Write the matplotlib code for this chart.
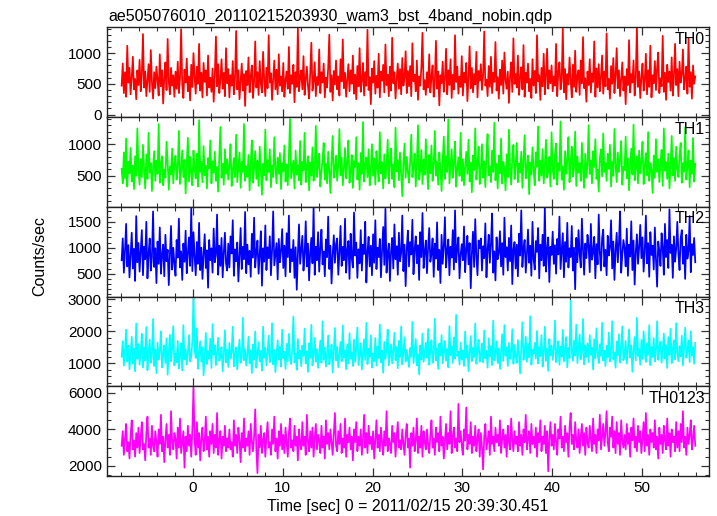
import numpy as np
import matplotlib
matplotlib.use("Agg")
import matplotlib.pyplot as plt
from matplotlib.ticker import MultipleLocator

plt.rcParams['font.family'] = ['Liberation Sans', 'DejaVu Sans']

title = "ae505076010_20110215203930_wam3_bst_4band_nobin.qdp"
xlabel = "Time [sec] 0 = 2011/02/15 20:39:30.451"
ylabel = "Counts/sec"

# first bin time and bin width (sec)
t_start = -8.0
t_bin = 0.125

th0 = [
    470, 830, 350, 690, 290, 1120, 520, 760, 330, 610, 940, 410, 580, 250, 720, 480,
    890, 380, 650, 1310, 440, 700, 300, 560, 820, 370, 1050, 520, 260, 690, 430, 780,
    560, 310, 980, 460, 720, 180, 610, 850, 400, 1230, 540, 330, 760, 470, 640, 290,
    700, 420, 860, 350, 590, 1390, 480, 270, 730, 520, 910, 380, 620, 230, 810, 450,
    1000, 610, 340, 780, 500, 1150, 390, 680, 280, 840, 530, 720, 310, 960, 440, 600,
    370, 750, 210, 630, 1270, 460, 820, 350, 570, 900, 420, 680, 300, 1080, 510, 740,
    280, 640, 470, 870, 330, 590, 1360, 410, 720, 250, 550, 830, 390, 660, 140, 710,
    480, 930, 360, 620, 800, 270, 540, 1190, 440, 690, 320, 870, 510, 360, 1020, 580,
    300, 760, 430, 1290, 520, 670, 240, 590, 880, 410, 730, 330, 980, 470, 620, 380,
    840, 290, 560, 700, 420, 1100, 350, 640, 500, 810, 200, 690, 450, 1410, 380, 600,
    720, 410, 950, 320, 580, 780, 460, 260, 670, 1170, 390, 540, 850, 300, 610, 480,
    1060, 350, 690, 520, 830, 280, 600, 440, 760, 1300, 370, 640, 230, 710, 490, 880,
    410, 620, 310, 900, 540, 1220, 430, 680, 290, 570, 820, 380, 720, 500, 960, 340,
    650, 250, 790, 460, 1080, 370, 560, 840, 310, 690, 470, 1380, 400, 610, 170, 750,
    520, 870, 340, 630, 440, 990, 280, 700, 550, 810, 360, 1140, 480, 650, 300, 780,
    390, 1250, 510, 690, 260, 580, 830, 420, 740, 330, 920, 470, 600, 1030, 350, 710,
    460, 790, 300, 1160, 540, 650, 380, 880, 240, 620, 470, 770, 1330, 410, 560, 320,
    690, 440, 980, 360, 610, 800, 290, 530, 1200, 420, 700, 150, 640, 510, 860, 370,
    580, 1070, 330, 720, 480, 900, 270, 650, 410, 1290, 530, 780, 340, 620, 450, 950,
    310, 680, 520, 840, 220, 590, 1110, 430, 760, 360, 660, 490, 1020, 280, 710, 550,
    820, 400, 630, 1350, 470, 570, 300, 790, 450, 940, 350, 680, 530, 1180, 390, 610,
    260, 730, 480, 880, 340, 1010, 560, 420, 700, 190, 620, 850, 370, 1240, 500, 660,
    440, 960, 320, 600, 770, 410, 1130, 290, 680, 520, 830, 380, 580, 270, 900, 470,
    710, 350, 1290, 540, 640, 240, 760, 460, 990, 330, 610, 1070, 420, 720, 510, 800,
    380, 620, 470, 1150, 300, 690, 850, 410, 560, 1400, 360, 740, 250, 660, 490, 930,
    560, 280, 810, 450, 1040, 370, 630, 720, 320, 880, 510, 1260, 430, 590, 210, 700,
    480, 900, 360, 670, 530, 1190, 290, 750, 440, 820, 380, 610, 960, 340, 700, 460,
    1320, 410, 580, 260, 790, 500, 920, 350, 640, 1080, 430, 720, 300, 570, 850, 390,
    620, 170, 740, 480, 1210, 360, 660, 520, 880, 310, 590, 1430, 450, 700, 270, 610,
    830, 390, 560, 990, 330, 720, 450, 1120, 280, 640, 510, 870, 400, 760, 1010, 350,
    590, 460, 1280, 370, 680, 240, 810, 530, 700, 390, 930, 310, 620, 1150, 480, 740,
    300, 860, 520, 650, 1060, 410, 570, 780, 340, 1240, 450, 690, 260, 800, 500, 620,
]
th1 = [
    610, 380, 870, 460, 1090, 330, 720, 540, 940, 410, 660, 290, 810, 500, 1250, 590,
    360, 760, 480, 990, 620, 300, 840, 450, 1180, 550, 700, 260, 630, 890, 420, 740,
    530, 1320, 390, 680, 810, 350, 600, 470, 1040, 720, 280, 650, 520, 930, 380, 700,
    820, 440, 640, 1210, 370, 570, 900, 480, 750, 220, 690, 1100, 410, 800, 540, 350,
    900, 600, 460, 850, 330, 1380, 560, 720, 400, 970, 510, 660, 300, 780, 620, 1060,
    380, 730, 550, 880, 420, 640, 250, 810, 1270, 470, 690, 360, 920, 530, 760, 440,
    670, 1000, 340, 590, 780, 480, 1150, 400, 630, 870, 310, 720, 560, 1320, 420, 650,
    480, 830, 270, 700, 1060, 390, 610, 890, 450, 740, 340, 960, 580, 200, 690, 510,
    1230, 430, 750, 560, 920, 320, 660, 480, 1110, 620, 380, 790, 530, 860, 290, 700,
    570, 980, 410, 680, 350, 820, 1400, 460, 600, 740, 300, 900, 520, 670, 430, 1050,
    360, 720, 590, 1180, 400, 640, 810, 270, 710, 500, 950, 420, 620, 1290, 480, 680,
    850, 330, 560, 760, 1020, 440, 690, 380, 880, 580, 230, 740, 1130, 470, 600, 820,
    420, 670, 1240, 510, 790, 350, 620, 940, 460, 710, 1060, 390, 560, 830, 310, 730,
    640, 1110, 440, 700, 280, 860, 530, 1350, 410, 660, 790, 480, 920, 350, 600, 1000,
    500, 780, 360, 890, 620, 410, 1190, 540, 720, 300, 840, 460, 650, 1070, 380, 710,
    930, 450, 680, 320, 1260, 570, 750, 430, 870, 520, 180, 690, 1010, 470, 800, 560,
    390, 720, 1150, 480, 640, 850, 330, 700, 1300, 440, 590, 910, 370, 760, 520, 1080,
    610, 290, 830, 540, 980, 420, 680, 1210, 500, 720, 360, 870, 600, 260, 740, 1120,
    450, 810, 560, 1390, 380, 650, 920, 470, 700, 1040, 330, 620, 790, 500, 1180, 420,
    760, 350, 640, 880, 530, 1070, 410, 710, 240, 820, 590, 1250, 440, 680, 960, 370,
    580, 1000, 470, 730, 320, 860, 1160, 510, 650, 400, 900, 560, 1340, 430, 690, 300,
    820, 540, 1090, 380, 720, 610, 270, 840, 480, 1230, 640, 360, 780, 990, 450, 670,
    1020, 400, 690, 550, 880, 310, 760, 1140, 460, 620, 820, 210, 710, 520, 950, 590,
    350, 870, 640, 1280, 420, 740, 500, 920, 380, 680, 1070, 470, 560, 800, 330, 1190,
    610, 450, 830, 1010, 360, 700, 580, 1360, 440, 650, 280, 890, 530, 760, 1110, 400,
    720, 960, 490, 620, 1200, 340, 810, 550, 700, 420, 1020, 600, 310, 850, 470, 680,
    1300, 530, 740, 380, 890, 640, 1080, 450, 600, 250, 780, 920, 490, 1170, 560, 700,
    420, 850, 610, 990, 330, 720, 500, 1240, 680, 400, 870, 560, 750, 1050, 360, 640,
    590, 1120, 460, 780, 270, 690, 930, 520, 1310, 430, 650, 810, 380, 900, 540, 720,
    1040, 370, 640, 860, 510, 1190, 420, 700, 600, 230, 820, 470, 1080, 560, 760, 400,
    690, 910, 340, 1250, 580, 720, 450, 850, 300, 640, 1130, 510, 780, 420, 960, 610,
    480, 820, 1020, 390, 700, 560, 1270, 440, 650, 900, 320, 740, 530, 1100, 410, 690,
]
th2 = [
    760, 1180, 520, 950, 1460, 640, 1050, 430, 870, 1290, 600, 980, 360, 1610, 720, 1090,
    540, 930, 1340, 470, 1020, 780, 1500, 410, 880, 1180, 560, 820, 1700, 630, 990, 320,
    1120, 690, 1390, 500, 860, 1060, 450, 1250, 740, 960, 280, 830, 1420, 580, 1000, 700,
    460, 1150, 810, 1560, 620, 930, 380, 1080, 730, 1330, 510, 900, 1200, 650, 1760, 550,
    1300, 840, 470, 1110, 690, 1480, 570, 1000, 400, 880, 1260, 610, 950, 230, 1150, 760,
    990, 520, 1370, 720, 860, 1640, 480, 1040, 650, 1190, 430, 900, 1290, 700, 560, 1080,
    620, 1220, 890, 1530, 460, 970, 740, 1100, 350, 840, 1380, 590, 1020, 780, 1690, 510,
    1060, 680, 940, 440, 1270, 810, 1580, 620, 920, 1140, 500, 860, 1320, 270, 990, 730,
    1430, 570, 1010, 800, 1220, 470, 950, 1700, 660, 880, 1090, 390, 1170, 720, 940, 1360,
    610, 1040, 450, 1280, 820, 1620, 530, 970, 740, 1150, 420, 1010, 190, 880, 1450, 690,
    960, 1230, 560, 870, 1510, 640, 1080, 370, 910, 1190, 700, 1790, 480, 1020, 760, 1300,
    540, 990, 1350, 680, 930, 450, 1160, 820, 1600, 590, 1040, 310, 860, 1240, 710, 1070,
    1180, 480, 890, 1420, 650, 1020, 760, 1560, 520, 940, 1130, 400, 1270, 800, 620, 1680,
    850, 1100, 420, 970, 700, 1340, 560, 1060, 880, 1500, 330, 910, 1210, 640, 1040, 470,
    1260, 710, 1530, 590, 1000, 820, 1170, 430, 950, 1400, 670, 1750, 520, 890, 1080, 360,
    930, 1190, 600, 1450, 780, 1030, 480, 1290, 740, 900, 1620, 550, 1060, 260, 980, 1330,
    640, 1110, 870, 1540, 490, 960, 1220, 700, 1050, 380, 1300, 820, 1670, 610, 920, 1140,
    510, 1000, 1380, 730, 880, 1180, 440, 1080, 790, 1490, 570, 960, 320, 1250, 690, 1030,
    1590, 620, 940, 1160, 470, 1020, 810, 1340, 580, 1720, 720, 990, 1200, 410, 870, 1070,
    760, 1410, 530, 960, 1230, 680, 1090, 220, 900, 1310, 630, 1550, 840, 470, 1140, 990,
    1180, 560, 1030, 800, 1470, 430, 960, 1250, 710, 1080, 1660, 520, 930, 370, 1200, 780,
    900, 1320, 640, 1090, 480, 1580, 820, 1010, 560, 1190, 740, 1430, 300, 970, 1110, 600,
    1060, 450, 1270, 850, 1720, 630, 990, 1150, 520, 880, 1350, 710, 1040, 460, 1500, 780,
    580, 1130, 920, 1380, 410, 1060, 760, 1250, 650, 1790, 540, 960, 1200, 340, 1020, 860,
    1310, 690, 1050, 500, 1170, 870, 1600, 590, 940, 1280, 430, 1110, 730, 1480, 620, 990,
    820, 1420, 560, 1000, 200, 1190, 720, 1340, 880, 620, 1560, 960, 480, 1080, 800, 1250,
    1040, 530, 1460, 770, 920, 1210, 410, 1070, 680, 1640, 900, 560, 1180, 1350, 640, 960,
    470, 1230, 850, 1010, 1530, 600, 1120, 380, 950, 1290, 720, 1080, 1700, 520, 870, 1150,
    990, 640, 1370, 460, 1060, 830, 1510, 570, 1140, 290, 920, 1260, 690, 1010, 1440, 800,
    1200, 540, 930, 1620, 700, 1090, 440, 1300, 860, 1040, 580, 1390, 760, 250, 1120, 940,
    650, 1280, 1010, 480, 1460, 820, 1150, 610, 1740, 900, 1060, 420, 1220, 730, 980, 1500,
    880, 570, 1180, 1340, 690, 1020, 400, 1250, 790, 940, 1610, 530, 1070, 860, 1190, 720,
]
th3 = [
    1210, 1690, 930, 1420, 2050, 1060, 1550, 820, 1300, 1830, 990, 1460, 760, 2240, 1140, 1600,
    960, 1370, 1920, 870, 1500, 1090, 2130, 790, 1330, 1740, 1020, 1250, 2380, 920, 1440, 700,
    1650, 1120, 1390, 2000, 880, 1280, 1560, 1010, 1780, 650, 1350, 1890, 1070, 1470, 2160, 940,
    1310, 1040, 1700, 840, 1260, 1620, 780, 2190, 1130, 1450, 960, 1330, 1880, 1060, 1210, 1680,
    3100, 1460, 1170, 2090, 830, 1310, 1690, 1050, 1500, 630, 1250, 1950, 980, 1380, 1140, 1770,
    860, 2220, 1270, 1560, 940, 1340, 1800, 1080, 1200, 1510, 750, 1290, 2030, 1030, 1420, 890,
    1640, 1150, 1370, 2140, 910, 1260, 1500, 810, 1330, 1740, 1020, 1190, 2420, 1100, 1440, 930,
    1280, 1830, 1000, 1410, 700, 1580, 1130, 1990, 870, 1300, 1660, 1060, 1390, 780, 2140, 1180,
    1490, 940, 1320, 1860, 1040, 1230, 2250, 970, 1420, 730, 1270, 1720, 1120, 1510, 900, 2050,
    1160, 1360, 830, 1610, 1070, 1920, 1220, 980, 1470, 2460, 1030, 1310, 800, 1760, 1150, 1400,
    910, 1550, 1240, 2080, 1000, 1370, 740, 1630, 1170, 2200, 940, 1290, 1790, 1050, 1450, 860,
    1330, 1710, 1020, 2310, 1130, 1490, 900, 1300, 1870, 970, 1230, 1590, 720, 1380, 2100, 1090,
    1510, 880, 1260, 1670, 1060, 2180, 1190, 1400, 820, 1600, 1000, 1940, 1150, 1340, 920, 1740,
    1040, 1440, 2120, 950, 1280, 1620, 810, 1360, 1750, 1110, 2260, 980, 1460, 1210, 1870, 870,
    1310, 1070, 1790, 930, 1530, 1170, 2210, 1030, 1400, 710, 1670, 1140, 1470, 2050, 940, 1270,
    1590, 1000, 1390, 1950, 1100, 1510, 850, 1700, 1200, 2150, 970, 1340, 1810, 1060, 1420, 1170,
    890, 1480, 1210, 2290, 1010, 1380, 1760, 940, 1290, 660, 1560, 1120, 1930, 1050, 1350, 1640,
    1180, 2070, 960, 1430, 1720, 1020, 1300, 2390, 1090, 1470, 830, 1620, 1240, 1880, 1000, 1360,
    1700, 1080, 1450, 880, 2160, 1260, 1530, 1010, 1810, 1150, 2510, 1230, 1370, 960, 1650, 1120,
    1400, 920, 1990, 1180, 1560, 760, 1320, 1850, 1070, 1480, 1200, 2240, 990, 1410, 1730, 1050,
    1260, 1620, 1030, 2020, 1160, 1390, 870, 1780, 1220, 1540, 950, 2330, 1100, 1300, 1690, 1010,
    1470, 830, 1350, 1910, 1080, 2190, 1240, 1500, 920, 1640, 1140, 1380, 2060, 990, 1570, 1210,
    1020, 1730, 1290, 690, 1460, 2280, 1110, 1370, 1830, 1050, 1590, 1190, 2470, 960, 1420, 1300,
    1640, 1150, 2010, 1000, 1510, 1230, 1880, 900, 1350, 2140, 1080, 1460, 770, 1760, 1250, 1560,
    1110, 1430, 2330, 1040, 1300, 1690, 960, 1520, 1210, 2040, 1070, 1380, 1820, 880, 1480, 1170,
    2950, 1360, 1080, 1710, 1240, 2200, 1010, 1450, 1900, 1130, 1330, 2380, 970, 1560, 1200, 1620,
    1040, 1880, 1270, 1490, 810, 1750, 1160, 2090, 1320, 1010, 1600, 1230, 2260, 1090, 1400, 920,
    1550, 1190, 1960, 1060, 1420, 2310, 1130, 1340, 870, 1680, 1250, 1910, 1020, 1490, 2150, 1100,
    1290, 1700, 990, 1470, 2060, 1180, 1560, 740, 1380, 1820, 1090, 2420, 1230, 1440, 960, 1730,
    1140, 2000, 1350, 1050, 1620, 1270, 2190, 950, 1510, 1200, 1790, 1060, 1400, 2310, 1110, 1480,
    1680, 1020, 1390, 1930, 1150, 1570, 860, 1820, 1260, 2080, 1010, 1450, 1720, 1130, 2250, 1330,
    1070, 1540, 1220, 1860, 940, 1460, 2110, 1180, 1370, 1710, 1040, 2000, 1250, 1500, 990, 1640,
]
th0123 = [
    3100, 3900, 2600, 3500, 4300, 2800, 3300, 2400, 3700, 4500, 2900, 3400, 2500, 3800, 3000, 4100,
    2700, 3600, 4400, 2900, 3200, 2300, 3800, 4700, 3000, 3500, 2600, 4200, 3100, 2800, 3900, 3300,
    2500, 4000, 3200, 4800, 2800, 3600, 2200, 3400, 4300, 3000, 3700, 2600, 5000, 3300, 2900, 3800,
    3500, 2400, 4100, 3000, 4600, 2700, 3300, 3900, 1900, 3600, 2800, 4200, 3100, 3700, 2500, 4000,
    6300, 3400, 2600, 4400, 3000, 3800, 2300, 3500, 4100, 2800, 3300, 4700, 2900, 3600, 2500, 3900,
    3200, 4300, 2700, 3700, 3000, 4900, 2600, 3400, 3900, 2400, 3600, 3100, 4200, 2800, 3500, 3000,
    4000, 2900, 3300, 2500, 4500, 3100, 3700, 2700, 4100, 3400, 2200, 3800, 3000, 4600, 2800, 3500,
    3100, 3900, 2600, 4300, 3300, 2800, 3600, 5100, 2900, 1600, 3700, 3000, 4200, 2700, 3400, 3800,
    2500, 3600, 4400, 3000, 3300, 2600, 4000, 3200, 4700, 2800, 3500, 2400, 3900, 3100, 4300, 2900,
    3700, 2700, 4100, 3300, 2500, 3800, 4600, 3000, 3400, 2800, 4200, 3100, 3600, 2300, 4000, 3200,
    2900, 4400, 3100, 3600, 2600, 4800, 3300, 2800, 3900, 3000, 4100, 2500, 3500, 4300, 2900, 3700,
    3400, 2700, 4200, 3000, 3600, 2400, 4500, 3200, 3800, 2900, 4000, 3300, 2600, 3700, 4900, 3100,
    2800, 3900, 3200, 4300, 2700, 3500, 3000, 4600, 2500, 3700, 3300, 4100, 2900, 3600, 2300, 4000,
    3300, 4400, 2800, 3600, 3100, 4000, 2600, 3500, 4800, 3000, 3800, 2700, 4200, 3200, 3600, 2900,
    3900, 2400, 3400, 4500, 3000, 3700, 2800, 4100, 3300, 2600, 3900, 3100, 5000, 2800, 3500, 3200,
    2700, 4200, 3300, 3800, 2500, 3600, 4400, 3000, 3400, 2900, 4000, 3200, 2600, 3700, 4300, 3000,
    3500, 1900, 3800, 3100, 4100, 2800, 3400, 4600, 2700, 3600, 3000, 4200, 2500, 3900, 3300, 2900,
    4000, 3200, 2700, 3700, 4500, 3000, 3500, 2600, 4100, 3300, 3800, 2800, 4700, 3100, 3600, 2400,
    3400, 4300, 2900, 3800, 3200, 5000, 2700, 3600, 4100, 3000, 3500, 2800, 5400, 3300, 3900, 3100,
    2600, 4000, 3400, 5200, 2900, 3700, 3200, 4400, 2700, 3600, 3100, 4200, 2800, 3500, 4000, 2500,
    3800, 3000, 1800, 3600, 4300, 2900, 3400, 3900, 2600, 4700, 3200, 3600, 2800, 4100, 3300, 3700,
    3100, 4500, 2700, 3500, 4000, 3000, 3700, 2500, 4200, 3300, 2900, 4600, 3400, 2800, 3900, 3200,
    3600, 2800, 4400, 3100, 3700, 2600, 4000, 3300, 4800, 2900, 3500, 3900, 2700, 4300, 3200, 3600,
    3000, 4100, 2500, 3800, 3300, 4500, 2800, 3600, 3200, 4200, 2700, 3900, 1700, 3500, 4400, 3100,
    3700, 2900, 4300, 3300, 2600, 4000, 3500, 4700, 3000, 3600, 2800, 4200, 3300, 3800, 2500, 4100,
    4900, 3200, 3700, 2900, 4400, 3400, 3000, 4000, 2700, 3600, 4300, 3100, 3800, 2600, 4100, 3300,
    3000, 4200, 3500, 2800, 4600, 3200, 3700, 2700, 4000, 3400, 4800, 2900, 3600, 4300, 3100, 3800,
    5000, 3300, 2800, 4100, 3600, 4700, 3000, 3900, 2700, 4400, 3200, 3800, 2600, 4500, 3400, 3000,
    3700, 2900, 4300, 3200, 3800, 2500, 4100, 3400, 4600, 3000, 3600, 2800, 4200, 3300, 3900, 2700,
    3500, 4400, 2800, 4900, 3100, 3700, 2600, 4000, 3300, 3800, 3000, 4500, 2900, 3600, 2400, 4100,
    3200, 3700, 2700, 4200, 3400, 2900, 4600, 3100, 3800, 2500, 4000, 3300, 3600, 2800, 4400, 3000,
    3900, 2800, 4300, 3300, 5000, 3000, 3600, 2600, 4100, 3200, 3700, 4500, 2900, 3500, 4200, 3100,
]

bands = ["TH0", "TH1", "TH2", "TH3", "TH0123"]
colors = ["#ff0000", "#00ff00", "#0000ff", "#00ffff", "#ff00ff"]
ylims = [(-40, 1420), (10, 1430), (60, 1790), (290, 3080), (1440, 6370)]
yticks = [[0, 500, 1000], [500, 1000], [500, 1000, 1500],
          [1000, 2000, 3000], [2000, 4000, 6000]]
yminor = [100, 100, 100, 200, 500]

rates = [th0, th1, th2, th3, th0123]
t = t_start + t_bin * np.arange(len(th0)) + t_bin / 2

fig = plt.figure(figsize=(7.17, 5.16), dpi=100)
left, width = 106.7 / 717, 602.6 / 717
top_px, h_px = 27.3, 89.74

for i in range(5):
    bottom = 1 - (top_px + (i + 1) * h_px) / 516
    ax = fig.add_axes([left, bottom, width, h_px / 516])
    ax.plot(t, rates[i], color=colors[i], lw=1.25)
    ax.set_xlim(-9.6, 57.5)
    ax.set_ylim(*ylims[i])
    ax.set_yticks(yticks[i])
    ax.yaxis.set_minor_locator(MultipleLocator(yminor[i]))
    ax.xaxis.set_major_locator(MultipleLocator(10))
    ax.xaxis.set_minor_locator(MultipleLocator(2))
    ax.tick_params(which="both", direction="in", top=True, right=True,
                   labelsize=11, color="#333333")
    ax.tick_params(which="major", length=6, width=0.9)
    ax.tick_params(which="minor", length=3, width=0.8)
    for s in ax.spines.values():
        s.set_linewidth(1.0)
        s.set_color("#222222")
    if i < 4:
        ax.tick_params(labelbottom=False)
    ax.text(0.993, 0.95, bands[i], transform=ax.transAxes, ha="right",
            va="top", fontsize=11.5)

fig.text(108 / 717, 1 - 21 / 516, title, fontsize=11.5, va="baseline")
fig.text(408 / 717, 1 - 506 / 516, xlabel, fontsize=11.5, ha="center", va="center")
fig.text(40 / 717, 1 - 256 / 516, ylabel, fontsize=11.5, rotation=90,
         ha="center", va="center")

fig.savefig("out.png", dpi=100)
